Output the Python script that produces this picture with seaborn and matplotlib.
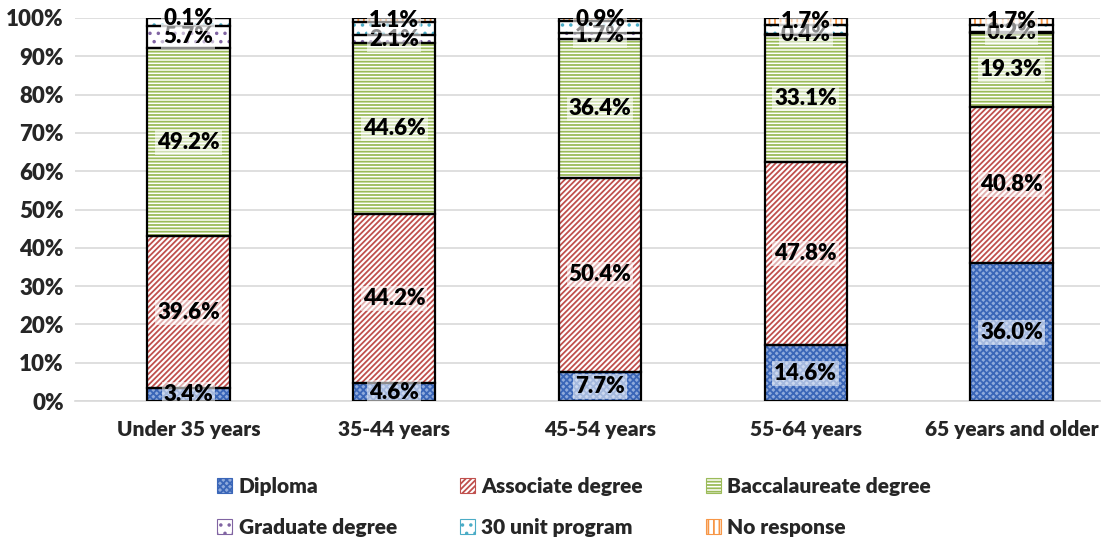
import numpy as np
import pandas as pd
import seaborn as sns
import matplotlib.pyplot as plt
from matplotlib.patches import Patch

# data (percent of each age group)
age_groups = ['Under 35 years', '35-44 years', '45-54 years', '55-64 years', '65 years and older']
diploma = [3.4, 4.6, 7.7, 14.6, 36.0]
associate = [39.6, 44.2, 50.4, 47.8, 40.8]
baccalaureate = [49.2, 44.6, 36.4, 33.1, 19.3]
graduate = [5.7, 2.1, 1.7, 0.4, 0.2]
unit30 = [2.0, 3.4, 2.9, 2.4, 2.0]
no_response = [0.1, 1.1, 0.9, 1.7, 1.7]

series_names = ['Diploma', 'Associate degree', 'Baccalaureate degree',
                'Graduate degree', '30 unit program', 'No response']
series_vals = [diploma, associate, baccalaureate, graduate, unit30, no_response]
show_label = [True, True, True, True, False, True]

# (face colour, hatch colour, hatch pattern)
styles = [('#8faadc', '#3a66b8', 'xxxxx'),
          ('white', '#c0504d', '//////'),
          ('white', '#9bbb59', '-----'),
          ('white', '#8064a2', '..'),
          ('white', '#4bacc6', '..'),
          ('white', '#f79646', '|||')]

W = 'heavy'  # Calibri bold in the original looks heavier than Lato bold

sns.set_style('white')
plt.rcParams['font.family'] = ['Lato', 'DejaVu Sans']
plt.rcParams['font.weight'] = W
plt.rcParams['hatch.linewidth'] = 1.3

fig = plt.figure(figsize=(11.04, 5.44), dpi=100)
ax = fig.add_axes([75 / 1104, 1 - 401 / 544, 1025 / 1104, 383 / 544])

bar_w = 0.40
bottom = np.zeros(len(age_groups))
for name, vals, (face, hcol, hatch), lab in zip(series_names, series_vals, styles, show_label):
    vals = np.array(vals)
    sns.barplot(x=age_groups, y=vals, bottom=bottom, color=face, edgecolor=hcol,
                hatch=hatch, linewidth=0, width=bar_w, errorbar=None, saturation=1, ax=ax)
    ax.bar(np.arange(len(age_groups)), vals, bottom=bottom, width=bar_w,
           fill=False, edgecolor='black', linewidth=1.6, zorder=3)
    if lab:
        for i, v in enumerate(vals):
            ax.text(i, bottom[i] + v / 2, f'{v:.1f}%', ha='center', va='center',
                    fontsize=16, fontweight=W, color='black', zorder=5,
                    bbox=dict(facecolor='white', alpha=0.55, edgecolor='none', pad=1.5))
    bottom = bottom + vals

ax.set_ylim(0, 100)
ax.set_xlim(-0.551, 4.43)
ax.set_yticks(range(0, 101, 10))
ax.set_yticklabels([f'{t}%' for t in range(0, 101, 10)], fontsize=16, fontweight=W)
ax.tick_params(axis='x', labelsize=15, pad=14, length=0)
ax.tick_params(axis='y', length=0, pad=8)
for lbl in ax.get_xticklabels():
    lbl.set_fontweight(W)
ax.yaxis.grid(True, color='#d9d9d9', linewidth=1.2)
ax.set_axisbelow(True)
for s in ['top', 'right', 'left']:
    ax.spines[s].set_visible(False)
ax.spines['bottom'].set_color('#d9d9d9')
ax.spines['bottom'].set_linewidth(1.2)
ax.set_xlabel('')
ax.set_ylabel('')

handles = [Patch(facecolor=face, edgecolor=hcol, hatch=hatch, linewidth=0.8)
           for face, hcol, hatch in styles]
# legend fills column by column, so interleave to get the reference's rows
order = [0, 3, 1, 4, 2, 5]
leg = fig.legend([handles[k] for k in order], [series_names[k] for k in order],
                 loc='center', ncol=3,
                 bbox_to_anchor=(574 / 1104, 1 - 507 / 544), frameon=False,
                 prop={'weight': W, 'size': 15}, handlelength=0.75,
                 handleheight=0.75, handletextpad=0.3, columnspacing=3.0,
                 labelspacing=1.05)

fig.savefig('out.png', dpi=100)
